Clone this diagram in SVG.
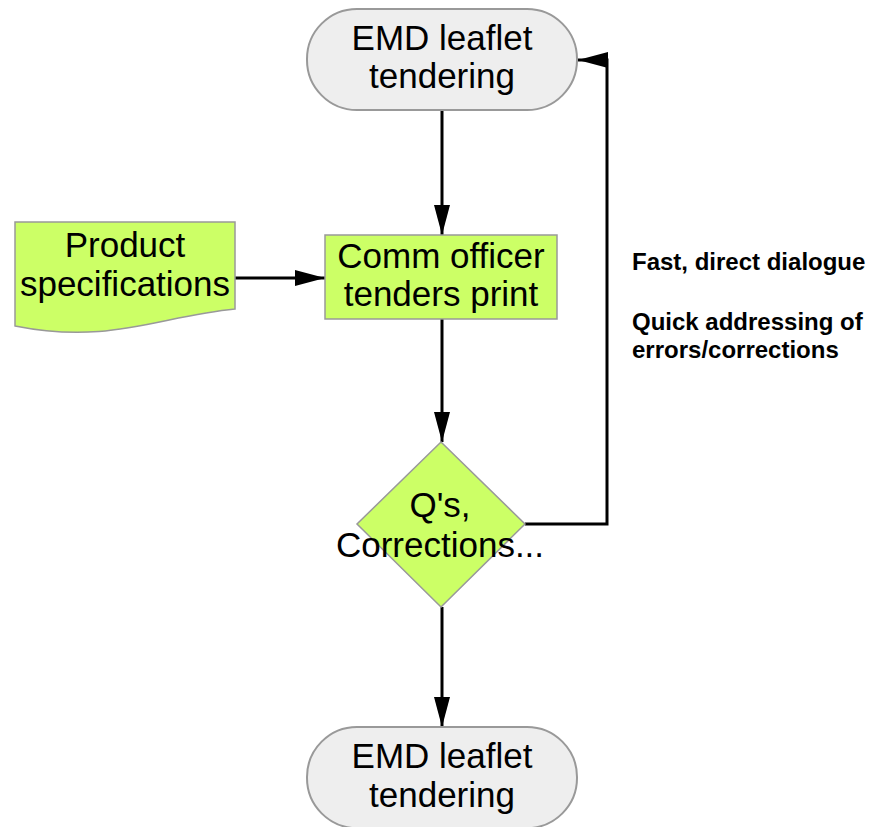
<svg xmlns="http://www.w3.org/2000/svg" width="873" height="827" viewBox="0 0 873 827">
<style>
.term{fill:#eeeeee;stroke:#999999;stroke-width:2}
.green{fill:#ccff66;stroke:#999999;stroke-width:1.5}
.t{font-family:"Liberation Sans",Arial,sans-serif;font-size:35px;fill:#000;text-anchor:middle}
.note{font-family:"Liberation Sans",Arial,sans-serif;font-size:24px;font-weight:bold;fill:#000}
.con{fill:none;stroke:#000;stroke-width:3}
</style>
<defs>
<marker id="ah" viewBox="0 0 30 16" refX="30" refY="8" markerWidth="30" markerHeight="16" markerUnits="userSpaceOnUse" orient="auto">
<path d="M0,0 L30,8 L0,16 Z" fill="#000"/>
</marker>
</defs>
<rect width="873" height="827" fill="#fff"/>
<g id="connectors">
<line class="con" x1="442" y1="110" x2="442" y2="235" marker-end="url(#ah)"/>
<line class="con" x1="235" y1="278" x2="325" y2="278" marker-end="url(#ah)"/>
<line class="con" x1="442" y1="319" x2="442" y2="442" marker-end="url(#ah)"/>
<polyline class="con" points="525,524 607,524 607,60 578,60" marker-end="url(#ah)"/>
<line class="con" x1="442" y1="607" x2="442" y2="727" marker-end="url(#ah)"/>
</g>
<g id="start">
<rect class="term" x="307" y="9" width="270" height="101" rx="50" ry="50"/>
<text class="t" x="442" y="50">EMD leaflet</text>
<text class="t" x="442" y="88">tendering</text>
</g>
<g id="product">
<path class="green" d="M15,222 H235 V309 C160,316 110,345 15,326 Z"/>
<text class="t" x="125" y="257">Product</text>
<text class="t" x="125" y="296">specifications</text>
</g>
<g id="comm">
<rect class="green" x="325" y="235" width="232" height="84"/>
<text class="t" x="441" y="268">Comm officer</text>
<text class="t" x="441" y="306">tenders print</text>
</g>
<g id="decision">
<polygon class="green" points="441,442 525,524 441,607 357,524"/>
<text class="t" x="440" y="517">Q's,</text>
<text class="t" x="440" y="557">Corrections...</text>
</g>
<g id="end">
<rect class="term" x="307" y="727" width="270" height="101" rx="50" ry="50"/>
<text class="t" x="442" y="768">EMD leaflet</text>
<text class="t" x="442" y="807">tendering</text>
</g>
<g id="notes">
<text class="note" x="632" y="270">Fast, direct dialogue</text>
<text class="note" x="632" y="330">Quick addressing of</text>
<text class="note" x="632" y="358">errors/corrections</text>
</g>
</svg>
